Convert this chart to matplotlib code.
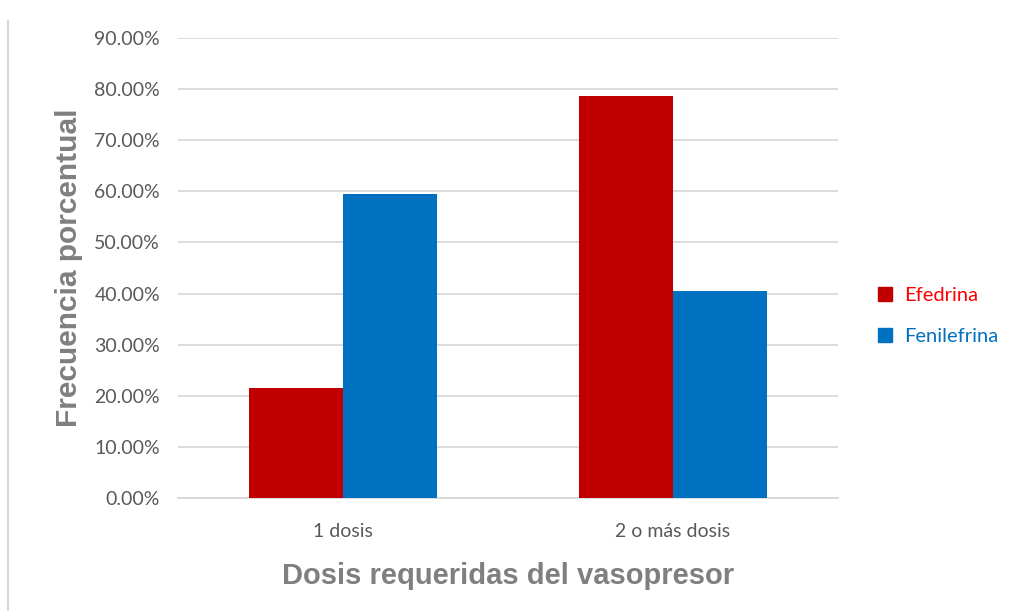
import matplotlib
matplotlib.use("Agg")
import matplotlib.pyplot as plt
from matplotlib.lines import Line2D
from matplotlib.patches import Patch
import numpy as np

categories = ["1 dosis", "2 o más dosis"]
series_names = ["Efedrina", "Fenilefrina"]
efedrina = [21.43, 78.57]
fenilefrina = [59.52, 40.48]
yticks = [0, 10, 20, 30, 40, 50, 60, 70, 80, 90]

RED = "#C00000"
BLUE = "#0070C0"
GRAY = "#595959"

fig = plt.figure(figsize=(10.16, 6.11), dpi=100)
ax = fig.add_axes([0.1752, 0.1849, 0.6496, 0.7529])

x = np.arange(len(categories))
width = 0.286
ax.bar(x - width / 2, efedrina, width, color=RED, zorder=3)
ax.bar(x + width / 2, fenilefrina, width, color=BLUE, zorder=3)

ax.set_xlim(-0.5, 1.5)
ax.set_ylim(0, 90)
ax.set_yticks(yticks)
ax.set_yticklabels([f"{v:.2f}%" for v in yticks], fontsize=14, color=GRAY, family="Lato")
ax.set_xticks(x)
ax.set_xticklabels(categories, fontsize=14, color=GRAY, family="Lato")
ax.tick_params(axis="both", length=0)
ax.tick_params(axis="y", pad=13)
ax.tick_params(axis="x", pad=18)
ax.grid(axis="y", color="#D9D9D9", linewidth=1.3, zorder=0)
for side in ["top", "right", "left"]:
    ax.spines[side].set_visible(False)
ax.spines["bottom"].set_color("#D9D9D9")
ax.spines["bottom"].set_linewidth(1.3)

ax.set_ylabel("Frecuencia porcentual", fontsize=21.5, fontweight="bold", color="#7F7F7F",
              family="Liberation Sans", labelpad=8)
ax.set_xlabel("Dosis requeridas del vasopresor", fontsize=21, fontweight="bold",
              color="#7F7F7F", family="Liberation Sans", labelpad=16)

handles = [Patch(color=RED), Patch(color=BLUE)]
leg = fig.legend(handles, series_names, loc="center left", bbox_to_anchor=(0.846, 0.483),
                 frameon=False, prop={"family": "Lato", "size": 14.5},
                 handlelength=0.7, handleheight=0.7, handletextpad=0.6, labelspacing=1.2)
leg.get_texts()[0].set_color("#FF0000")
leg.get_texts()[1].set_color(BLUE)

fig.add_artist(Line2D([0.008, 0.008], [0.0, 0.965], color="#D9D9D9", linewidth=1.5,
                      transform=fig.transFigure))

fig.savefig("out.png", dpi=100)
